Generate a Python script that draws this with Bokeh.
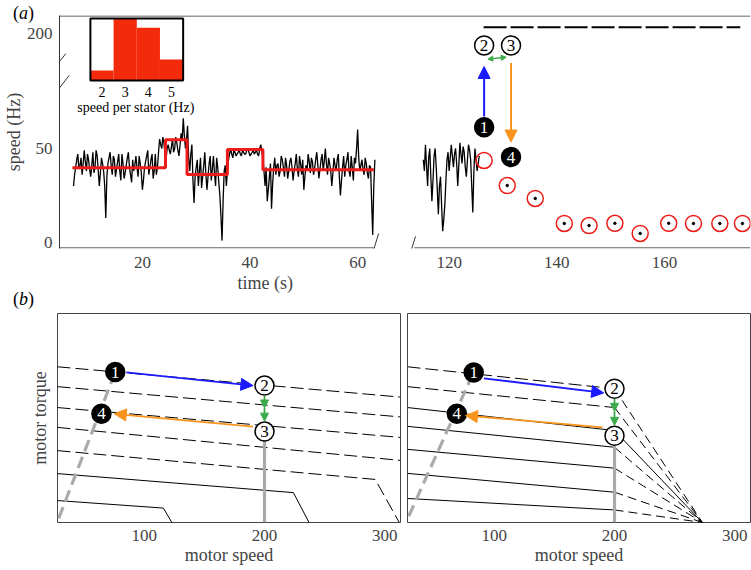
import numpy as np
from bokeh.plotting import figure
from bokeh.layouts import column, row
from bokeh.models import Range1d, FixedTicker, Arrow, NormalHead, Title, Div
from bokeh.core.properties import value
from bokeh.embed import file_html
from bokeh.resources import INLINE

FONT = "Liberation Serif"

# ---------------- panel (a) data ----------------
speed_left = [30, 36, 40, 44, 47, 39, 41, 45, 36, 42, 49, 43, 38, 47, 44, 39, 35, 41, 48, 37,
              40, 49, 46, 38, 30, 37, 45, 42, 38, 30, 13, 35, 42, 45, 48, 41, 36, 46, 44, 35,
              39, 43, 47, 38, 33, 47, 42, 34, 37, 41, 45, 48, 40, 36, 32, 44, 38, 41, 46, 40,
              35, 46, 42, 37, 28, 33, 40, 43, 46, 49, 36, 40, 44, 47, 34, 38, 47, 36, 40, 48,
              55, 52, 50, 56, 53, 47, 44, 50,
              52, 49, 47, 51, 55, 48, 50, 56, 53, 49, 46, 52, 58, 54, 66, 57, 50, 55, 62, 45,
              38, 47, 52, 33, 21, 35, 40, 44, 30, 38, 45, 29, 35, 41, 48, 36, 28, 35, 42, 46,
              33, 39, 46, 37, 30, 45, 40, 32, 25, 14, 1, 22, 38, 41, 30, 38,
              44, 47, 50, 47, 45, 49, 48, 46, 47, 48, 49, 47, 46, 49, 48, 47, 47, 49, 50, 48,
              46, 47, 48, 49, 47, 48, 49, 47, 46, 50, 52, 48, 45, 38,
              30, 40, 22, 28, 35, 42, 18, 31, 40, 45, 36, 41, 42, 35, 38, 46, 44, 40, 35, 45,
              41, 34, 38, 43, 45, 40, 33, 38, 42, 47, 39, 35, 46, 42, 36, 44, 28, 35, 41, 38,
              47, 43, 37, 45, 43, 36, 39, 44, 48, 41, 34, 39, 44, 47, 38, 43, 50, 42, 36, 45,
              42, 38, 30, 37, 45, 41, 38, 44, 47, 35, 25, 33, 40, 46, 35, 41, 44, 48, 38, 35,
              46, 40, 33, 45, 42, 50, 60, 45, 38, 41, 44, 39, 36, 45, 42, 37, 34, 41, 40, 22,
              4, 30, 44]
t_left = np.linspace(7.2, 63.2, len(speed_left))
speed_right = [44, 38, 52, 41, 30, 45, 50, 35, 22, 33, 46, 50, 40, 28, 15, 30, 35, 20, 6, 12,
               20, 33, 44, 48, 38, 45, 52, 46, 40, 47, 50, 42, 30, 41, 53, 47, 42, 51, 48, 40,
               35, 44, 52, 49, 44, 30, 16, 38, 50, 44, 38, 42, 46]
t_right = np.linspace(115.2, 125.6, len(speed_right))
median_t = [7.0, 24.3, 28.3, 35.8, 42.4, 63.0]
median_speed = [39.7, 54.6, 36.2, 49.5, 38.7, 38.7]
release_t = [126.5, 130.8, 136.0, 141.4, 146.0, 150.8, 155.5, 160.8, 165.4, 170.3, 174.5]
release_speed = [43.6, 30.3, 23.4, 10.1, 9.0, 10.2, 4.8, 10.2, 10.1, 10.1, 10.1]
stall_t = [126.4, 174.1]
stall_speed = [203.4, 203.4]
hist_bins = [2, 3, 4, 5]
hist_frac = [0.16, 1.0, 0.85, 0.34]
state_labels = ["1", "2", "3", "4"]
state_t = [126.5, 126.5, 131.5, 131.5]
state_speed = [61.3, 193.8, 193.8, 45.4]
state_fill = ["black", "white", "white", "black"]
state_text = ["white", "black", "black", "white"]
x_ticks = [20, 40, 60, 120, 140, 160]
y_ticks = [0, 50, 200]

# axis breaks: right time segment shifted left, upper speed segment shifted down
XOFF = 43.0
YOFF = 89.0
X0, X1 = 4.6, 133.0
Y0, Y1 = -3.2, 120.7


def bx(ts):
    return [float(v) - XOFF if v > 100 else float(v) for v in ts]


def by(vs):
    return [float(v) - YOFF if v > 100 else float(v) for v in vs]


RED = "#ec1c18"
HRED = "#f42a0c"
BLUE = "#1a1aff"
ORANGE = "#f7941d"
GREEN = "#3aaa4a"

pa = figure(width=751, height=298, x_range=Range1d(X0, X1), y_range=Range1d(Y0, Y1),
            output_backend="svg", toolbar_location=None, title=None,
            min_border_left=57, min_border_right=1, min_border_top=15, min_border_bottom=50)
pa.outline_line_color = None
pa.grid.visible = False
pa.background_fill_color = None

xa = pa.below[0]
xa.ticker = FixedTicker(ticks=bx(x_ticks))
xa.major_label_overrides = {int(d): str(t) for d, t in zip(bx(x_ticks), x_ticks)}
xa.axis_line_color = None
xa.major_tick_line_color = None
xa.minor_tick_line_color = None
xa.major_tick_out = 0
xa.major_label_standoff = 8
xa.major_label_text_font = FONT
xa.major_label_text_font_size = "17px"

ya = pa.left[0]
ya.ticker = FixedTicker(ticks=by(y_ticks))
ya.major_label_overrides = {int(d): str(v) for d, v in zip(by(y_ticks), y_ticks)}
ya.axis_line_color = "#333333"
ya.major_tick_line_color = None
ya.minor_tick_line_color = None
ya.major_tick_out = 0
ya.major_label_standoff = 7
ya.major_label_text_font = FONT
ya.major_label_text_font_size = "17px"
ya.axis_label = "speed (Hz)"
ya.axis_label_standoff = 0
ya.axis_label_text_font = FONT
ya.axis_label_text_font_size = "18px"
ya.axis_label_text_font_style = "normal"

pa.add_layout(Title(text="time (s)", align="left", offset=178, standoff=0,
                    text_font=FONT, text_font_size="18px", text_font_style="normal"), "below")

# frame top line and broken bottom axis line
pa.segment(x0=[X0], y0=[Y1 - 0.27], x1=[X1], y1=[Y1 - 0.27], line_color="#333333", line_width=1)
pa.segment(x0=bx([X0, 113.5]), y0=[Y0 + 0.3] * 2, x1=bx([63.0, 176.0]), y1=[Y0 + 0.3] * 2,
           line_color="#666666", line_width=1.2)

# data
pa.line(bx(t_left), speed_left, line_color="black", line_width=1.3)
pa.line(bx(t_right), speed_right, line_color="black", line_width=1.3)
pa.step(bx(median_t), median_speed, mode="after", line_color=RED, line_width=3)
pa.line(bx(stall_t), by(stall_speed), line_color="black", line_width=2, line_dash="23 4")
pa.scatter(bx(release_t), release_speed, marker="circle", size=16, fill_color=None,
           line_color=RED, line_width=1.5)
pa.scatter(bx(release_t[1:]), release_speed[1:], marker="circle", size=2.5,
           fill_color="black", line_color="black")

# inset histogram (own ranges, placed in the top-left corner)
pa.extra_x_ranges = {"hx": Range1d(0.167, 29.97)}
pa.extra_y_ranges = {"hy": Range1d(-2.71, 1.048)}
pa.quad(left=[b - 0.5 for b in hist_bins], right=[b + 0.5 for b in hist_bins],
        bottom=[0] * 4, top=hist_frac, fill_color=HRED, line_color=None,
        x_range_name="hx", y_range_name="hy")
pa.quad(left=[hist_bins[0] - 0.5], right=[hist_bins[-1] + 0.5], bottom=[0], top=[1],
        fill_color=None, line_color="black", line_width=2,
        x_range_name="hx", y_range_name="hy")
pa.text(x=hist_bins, y=[-0.19] * 4, text=[str(b) for b in hist_bins], text_align="center",
        text_baseline="middle", text_font=value(FONT), text_font_size="14px",
        x_range_name="hx", y_range_name="hy")
pa.text(x=[3.46], y=[-0.44], text=["speed per stator (Hz)"], text_align="center",
        text_baseline="middle", text_font=value(FONT), text_font_size="14px",
        x_range_name="hx", y_range_name="hy")

# state arrows
pa.add_layout(Arrow(x_start=bx([126.5])[0], y_start=67, x_end=bx([126.5])[0], y_end=by([182.6])[0],
                    line_color=BLUE, line_width=2,
                    end=NormalHead(size=12, fill_color=BLUE, line_color=BLUE)))
pa.add_layout(Arrow(x_start=bx([131.5])[0], y_start=by([184.5])[0], x_end=bx([131.5])[0], y_end=53.4,
                    line_color=ORANGE, line_width=2,
                    end=NormalHead(size=12, fill_color=ORANGE, line_color=ORANGE)))
pa.add_layout(Arrow(x_start=bx([127.2])[0], y_start=by([186.5])[0], x_end=bx([130.6])[0],
                    y_end=by([187.5])[0], line_color=GREEN, line_width=1.5,
                    start=NormalHead(size=5, fill_color=GREEN, line_color=GREEN),
                    end=NormalHead(size=5, fill_color=GREEN, line_color=GREEN)))

pa.scatter(bx(state_t), by(state_speed), marker="circle", size=19, fill_color=state_fill,
           line_color="black", line_width=1.5)
pa.text(bx(state_t), by(state_speed), text=state_labels, text_align="center",
        text_baseline="middle", text_font=value(FONT), text_font_size="17px",
        text_color=state_text)

# axis break marks (the parts inside the frame)
breaks = [((5.77, 100.4), (1.77, 86.2)), ((6.4, 88.8), (2.38, 74.1)),
          ((63.9, 4.8), (62.2, -11.2)), ((70.75, 3.2), (69.08, -12.2))]
for (x0, y0), (x1, y1) in breaks:
    pa.add_layout(Arrow(x_start=x0, y_start=y0, x_end=x1, y_end=y1, end=None,
                        line_color="#333333", line_width=1))

# ---------------- panel (b) data ----------------
b_ticks = [100, 200, 300]
left_dash_x = [[28, 313], [28, 313], [28, 313], [28, 313], [28, 292, 312]]
left_dash_y = [[0.745, 0.600], [0.650, 0.505], [0.550, 0.407], [0.455, 0.297], [0.344, 0.206, 0.0]]
left_solid_x = [[28, 224, 237], [28, 116, 123]]
left_solid_y = [[0.234, 0.143, 0.0], [0.105, 0.069, 0.0]]
right_flat_dash_x = [[28, 200], [28, 200]]
right_flat_dash_y = [[0.745, 0.64], [0.650, 0.55]]
right_steep_dash_x = [[200, 273], [200, 273], [200, 273], [200, 273], [200, 273], [200, 273]]
right_steep_dash_y = [[0.64, 0.0], [0.55, 0.0], [0.36, 0.0], [0.26, 0.0], [0.145, 0.0], [0.06, 0.0]]
right_solid_x = [[28, 200, 273], [28, 200], [28, 200], [28, 200], [28, 200]]
right_solid_y = [[0.55, 0.44, 0.0], [0.46, 0.36], [0.35, 0.26], [0.235, 0.145], [0.115, 0.06]]
left_load_x, left_load_y = [29, 76], [0.02, 0.72]
right_load_x, right_load_y = [29, 83], [0.03, 0.72]
vert_x, vert_y = [200, 200], [0.0, 0.41]
left_state_x, left_state_y = [76, 200, 200, 64.5], [0.72, 0.655, 0.435, 0.52]
right_state_x, right_state_y = [83, 200, 200, 69], [0.718, 0.64, 0.415, 0.52]
left_arrows = {"blue": ((85.2, 0.718), (190.4, 0.655)), "orange": ((190.4, 0.459), (75.2, 0.52)),
               "g1": ((200, 0.607), (200, 0.548)), "g2": ((200, 0.548), (200, 0.485))}
right_arrows = {"blue": ((91.4, 0.69), (191.0, 0.62)), "orange": ((190.0, 0.455), (76.2, 0.512)),
                "g1": ((200, 0.592), (200, 0.532)), "g2": ((200, 0.532), (200, 0.465))}


def make_b(width, mbl, mbr, with_ylabel):
    p = figure(width=width, height=271, x_range=Range1d(28, 313), y_range=Range1d(0, 1),
               output_backend="svg", toolbar_location=None, title=None,
               min_border_left=mbl, min_border_right=mbr, min_border_top=15, min_border_bottom=47,
               y_axis_location="left" if with_ylabel else None)
    p.grid.visible = False
    p.outline_line_color = "#444444"
    p.outline_line_width = 1
    ax = p.xaxis[0]
    ax.ticker = FixedTicker(ticks=b_ticks)
    ax.axis_line_color = None
    ax.major_tick_line_color = None
    ax.minor_tick_line_color = None
    ax.major_tick_out = 0
    ax.major_label_standoff = 7
    ax.major_label_text_font = FONT
    ax.major_label_text_font_size = "17px"
    ax.axis_label = "motor speed"
    ax.axis_label_standoff = 1
    ax.axis_label_text_font = FONT
    ax.axis_label_text_font_size = "18px"
    ax.axis_label_text_font_style = "normal"
    if with_ylabel:
        ay = p.yaxis[0]
        ay.ticker = FixedTicker(ticks=[])
        ay.axis_line_color = None
        ay.major_tick_line_color = None
        ay.minor_tick_line_color = None
        ay.major_tick_out = 0
        ay.major_label_standoff = 0
        ay.major_label_text_font_size = "0px"
        ay.axis_label = "motor torque"
        ay.axis_label_standoff = 8
        ay.axis_label_text_font = FONT
        ay.axis_label_text_font_size = "18px"
        ay.axis_label_text_font_style = "normal"
    return p


def add_states(p, xs, ys, arrows, load_x, load_y):
    p.line(load_x, load_y, line_color="#aaaaaa", line_width=3.2, line_dash="12 6")
    p.line(vert_x, vert_y, line_color="#aaaaaa", line_width=3.2)
    for key, col, sz in [("blue", BLUE, 12), ("orange", ORANGE, 12), ("g1", GREEN, 8), ("g2", GREEN, 8)]:
        (x0, y0), (x1, y1) = arrows[key]
        p.add_layout(Arrow(x_start=x0, y_start=y0, x_end=x1, y_end=y1, line_color=col,
                           line_width=1.8, end=NormalHead(size=sz, fill_color=col, line_color=col)))
    p.scatter(xs, ys, marker="circle", size=19, fill_color=state_fill, line_color="black",
              line_width=1.5)
    p.text(xs, ys, text=state_labels, text_align="center", text_baseline="middle",
           text_font=value(FONT), text_font_size="17px", text_color=state_text)


pb1 = make_b(403, 57, 3, True)
pb1.multi_line(left_dash_x, left_dash_y, line_color="black", line_width=1, line_dash="13 5")
pb1.multi_line(left_solid_x, left_solid_y, line_color="black", line_width=1)
add_states(pb1, left_state_x, left_state_y, left_arrows, left_load_x, left_load_y)

pb2 = make_b(348, 4, 1, False)
pb2.multi_line(right_flat_dash_x, right_flat_dash_y, line_color="black", line_width=1,
               line_dash="13 5")
pb2.multi_line(right_steep_dash_x, right_steep_dash_y, line_color="black", line_width=1,
               line_dash="9 5")
pb2.multi_line(right_solid_x, right_solid_y, line_color="black", line_width=1)
add_states(pb2, right_state_x, right_state_y, right_arrows, right_load_x, right_load_y)

# panel letters
div_style = {"position": "absolute", "z-index": "10", "font-family": FONT,
             "font-size": "18px", "line-height": "20px", "color": "black"}
div_a = Div(text='<span style="font-family: Liberation Serif; font-size: 18px;">(<i>a</i>)</span>',
            width=30, height=20, styles=dict(div_style, left="8px", top="-2px"))
div_b = Div(text='<span style="font-family: Liberation Serif; font-size: 18px;">(<i>b</i>)</span>',
            width=30, height=20, styles=dict(div_style, left="8px", top="284px"))

layout = column(pa, row(pb1, pb2), div_a, div_b)
open("out.html", "w").write(file_html(layout, INLINE))
